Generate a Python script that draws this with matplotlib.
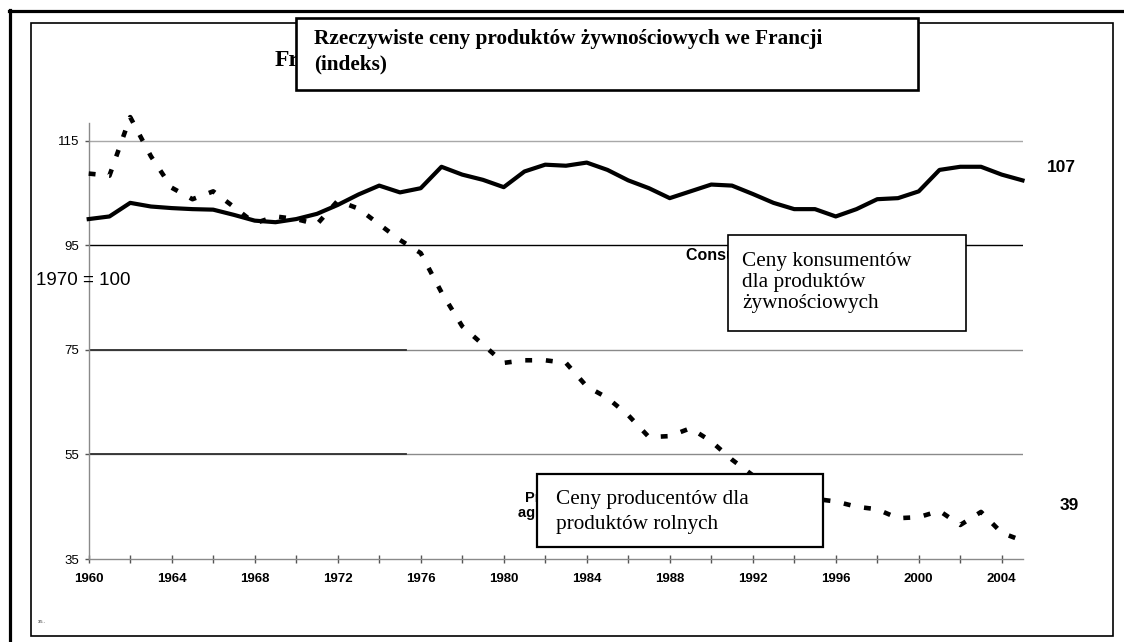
import matplotlib
matplotlib.use("Agg")
import matplotlib.pyplot as plt
from matplotlib.patches import Rectangle
from matplotlib.lines import Line2D

# data (1970 = 100)
years = list(range(1960, 2006))
consumer = [100.0, 100.5, 103.1, 102.4, 102.1, 101.9, 101.8, 100.8, 99.7, 99.4,
            100.0, 101.0, 102.7, 104.7, 106.4, 105.1, 105.9, 110.0, 108.5, 107.5,
            106.1, 109.1, 110.4, 110.2, 110.8, 109.4, 107.4, 105.9, 104.0, 105.3,
            106.6, 106.4, 104.8, 103.1, 101.9, 101.9, 100.5, 101.9, 103.8, 104.0,
            105.3, 109.4, 110.0, 110.0, 108.5, 107.4]
producer = [108.7, 108.3, 119.5, 112.0, 106.0, 103.8, 105.3, 102.3, 99.2, 100.5,
            100.0, 99.0, 103.5, 102.0, 99.0, 96.0, 93.5, 86.0, 79.5, 76.0,
            72.5, 73.0, 73.0, 72.5, 68.0, 65.8, 62.5, 58.3, 58.5, 60.0,
            57.5, 54.0, 51.0, 48.5, 47.0, 46.5, 46.0, 45.0, 44.5, 42.8,
            43.0, 44.2, 41.5, 44.0, 40.0, 38.5]
tick_years = list(range(1960, 2006, 2))
y_ticks = [35, 55, 75, 95, 115]

title_pl = ["Rzeczywiste ceny produktów żywnościowych we Francji", "(indeks)"]
consumer_pl = ["Ceny konsumentów", "dla produktów", "żywnościowych"]
producer_pl = ["Ceny producentów dla", "produktów rolnych"]

W, H = 1124, 642
SANS = "Liberation Sans"
SERIF = "Liberation Serif"


def fx(x):
    return x / W


def fy(y):
    return 1 - y / H


def box(x0, y0, x1, y1, lw):
    r = Rectangle((fx(x0), fy(y1)), (x1 - x0) / W, (y1 - y0) / H,
                  transform=fig.transFigure, facecolor="white",
                  edgecolor="black", lw=lw, zorder=5)
    fig.add_artist(r)


fig = plt.figure(figsize=(W / 100, H / 100), dpi=100)

# frames
fig.add_artist(Line2D([fx(9.5), fx(9.5)], [fy(10), fy(642)], color="black", lw=2.3))
fig.add_artist(Line2D([fx(8.5), fx(1124)], [fy(11), fy(11)], color="black", lw=2.3))
fig.add_artist(Rectangle((fx(31), fy(636)), (1113 - 31) / W, (636 - 23) / H,
                         transform=fig.transFigure, fill=False,
                         edgecolor="black", lw=1.2))

ax = fig.add_axes([fx(88.7), fy(559), (1022.5 - 88.7) / W, (559 - 123) / H])
ax.set_xlim(1960, 2005)
ax.set_ylim(35, 118.37)

ax.axhline(115, color="#a8a8a8", lw=1, zorder=1)
ax.axhline(95, color="black", lw=1, zorder=1)
for v in (75, 55):
    ax.axhline(v, color="#8a8a8a", lw=1, zorder=1)
    ax.plot([1960, 1975.3], [v, v], color="#303030", lw=1.3, zorder=1)

ax.plot(years, consumer, color="black", lw=3, solid_joinstyle="round",
        clip_on=False, zorder=3)
ax.plot(years, producer, color="black", lw=3.3, linestyle=(0, (1.5, 3.0)),
        dash_capstyle="butt", clip_on=False, zorder=3)

for s in ("top", "right"):
    ax.spines[s].set_visible(False)
for s in ("left", "bottom"):
    ax.spines[s].set_color("#8a8a8a")
    ax.spines[s].set_linewidth(1)

ax.set_xticks(tick_years)
ax.set_xticklabels([str(t) if t % 4 == 0 else "" for t in tick_years],
                   fontweight="bold", fontsize=9.5, family=SANS)
ax.set_yticks(y_ticks)
ax.set_yticklabels([str(t) for t in y_ticks], fontsize=9.5, family=SANS)
ax.tick_params(axis="x", direction="inout", length=6, width=1,
               color="#555555", pad=7)
ax.tick_params(axis="y", direction="out", length=3, width=1,
               color="#555555", pad=4)

# texts of the original chart, partly hidden by the boxes
fig.text(fx(275), fy(66), "France", family=SERIF, fontweight="bold",
         fontsize=17, zorder=4)
fig.text(fx(686), fy(260), "Consumer food prices", family=SANS,
         fontweight="bold", fontsize=11.5, zorder=4)
fig.text(fx(525), fy(502), "Producer prices", family=SANS,
         fontweight="bold", fontsize=10.5, zorder=4)
fig.text(fx(518), fy(517), "agricultural products", family=SANS,
         fontweight="bold", fontsize=10.5, zorder=4)
fig.text(fx(36), fy(280), "1970 = 100", family=SANS, fontsize=13.5,
         va="center")
fig.text(fx(1061), fy(167), "107", family=SANS, fontweight="bold",
         fontsize=12.5, ha="center", va="center")
fig.text(fx(1069), fy(505), "39", family=SANS, fontweight="bold",
         fontsize=12.5, ha="center", va="center")
fig.text(fx(38), fy(622), "35 -", family=SANS, fontsize=3, va="center")

# Polish boxes
box(296, 18, 918, 90, 1.9)
fig.text(fx(314), fy(44), title_pl[0], family=SERIF, fontweight="bold",
         fontsize=15.3, zorder=6)
fig.text(fx(314), fy(69), title_pl[1], family=SERIF, fontweight="bold",
         fontsize=15.3, zorder=6)

box(728, 235, 966, 331, 1.2)
for i, line in enumerate(consumer_pl):
    fig.text(fx(742), fy(266 + 21 * i), line, family=SERIF,
             fontsize=15.3, zorder=6)

box(537, 474, 823, 547, 1.6)
for i, line in enumerate(producer_pl):
    fig.text(fx(556), fy(504 + 25 * i), line, family=SERIF,
             fontsize=15.3, zorder=6)

fig.savefig("out.png", dpi=100)
